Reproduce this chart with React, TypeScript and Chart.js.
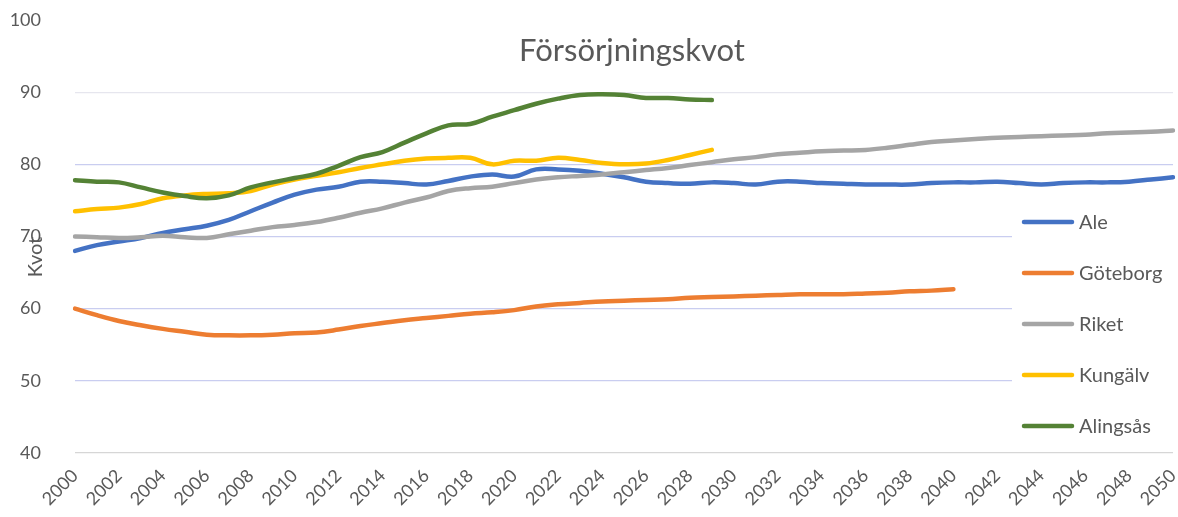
import React, { useEffect, useRef } from "react";
import { Chart, registerables } from "chart.js";

Chart.register(...registerables);

const years: string[] = [];
for (let y = 2000; y <= 2050; y++) years.push(String(y));

const ale = [
  68.0, 68.8, 69.3, 69.8, 70.5, 71.0, 71.5, 72.3, 73.5, 74.7,
  75.8, 76.5, 76.9, 77.6, 77.6, 77.4, 77.2, 77.7, 78.3, 78.6,
  78.3, 79.3, 79.3, 79.1, 78.7, 78.2, 77.6, 77.4, 77.3, 77.5,
  77.4, 77.2, 77.6, 77.6, 77.4, 77.3, 77.2, 77.2, 77.2, 77.4,
  77.5, 77.5, 77.6, 77.4, 77.2, 77.4, 77.5, 77.5, 77.6, 77.9,
  78.2,
];
const goteborg = [
  60.0, 59.1, 58.3, 57.7, 57.2, 56.8, 56.4, 56.3, 56.3, 56.4,
  56.6, 56.7, 57.1, 57.6, 58.0, 58.4, 58.7, 59.0, 59.3, 59.5,
  59.8, 60.3, 60.6, 60.8, 61.0, 61.1, 61.2, 61.3, 61.5, 61.6,
  61.7, 61.8, 61.9, 62.0, 62.0, 62.0, 62.1, 62.2, 62.4, 62.5,
  62.7,
];
const riket = [
  70.0, 69.9, 69.8, 69.9, 70.1, 69.9, 69.8, 70.3, 70.8, 71.3,
  71.6, 72.0, 72.6, 73.3, 73.9, 74.7, 75.4, 76.3, 76.7, 76.9,
  77.4, 77.9, 78.2, 78.4, 78.6, 78.9, 79.2, 79.5, 79.9, 80.3,
  80.7, 81.0, 81.4, 81.6, 81.8, 81.9, 82.0, 82.3, 82.7, 83.1,
  83.3, 83.5, 83.7, 83.8, 83.9, 84.0, 84.1, 84.3, 84.4, 84.5,
  84.7,
];
const kungalv = [
  73.5, 73.8, 74.0, 74.5, 75.3, 75.7, 75.9, 76.0, 76.3, 77.2,
  77.9, 78.4, 78.9, 79.5, 80.0, 80.5, 80.8, 80.9, 80.9, 80.0,
  80.5, 80.5, 80.9, 80.6, 80.2, 80.0, 80.1, 80.6, 81.3, 82.0,
];
const alingsas = [
  77.8, 77.6, 77.5, 76.8, 76.1, 75.6, 75.3, 75.7, 76.8, 77.5,
  78.1, 78.7, 79.8, 81.0, 81.7, 83.0, 84.3, 85.4, 85.6, 86.6,
  87.5, 88.4, 89.1, 89.6, 89.7, 89.6, 89.2, 89.2, 89.0, 88.9,
];

const seriesNames = ["Ale", "Göteborg", "Riket", "Kungälv", "Alingsås"];
const seriesColors = ["#4472C4", "#ED7D31", "#A5A5A5", "#FFC000", "#548235"];
const seriesData = [ale, goteborg, riket, kungalv, alingsas];

const titleText = "Försörjningskvot";
const yTitle = "Kvot";
const FONT = "Lato, 'Open Sans', sans-serif";
const TEXT = "#595959";

const overlay = {
  id: "overlay",
  beforeDatasetsDraw(chart: any) {
    const ctx = chart.ctx;
    ctx.save();
    ctx.fillStyle = "#ffffff";
    ctx.fillRect(1012, 198, 166, 244);
    ctx.restore();
  },
  afterDraw(chart: any) {
    const ctx = chart.ctx;
    ctx.save();
    // title
    ctx.fillStyle = TEXT;
    ctx.font = `31px ${FONT}`;
    ctx.textAlign = "center";
    ctx.textBaseline = "alphabetic";
    ctx.fillText(titleText, 632, 61);
    // y title
    ctx.save();
    ctx.translate(42, 257);
    ctx.rotate(-Math.PI / 2);
    ctx.font = `20px ${FONT}`;
    ctx.textAlign = "center";
    ctx.fillText(yTitle, 0, 0);
    ctx.restore();
    // legend
    ctx.font = `20px ${FONT}`;
    ctx.textAlign = "left";
    ctx.textBaseline = "middle";
    chart.data.datasets.forEach((ds: any, i: number) => {
      const y = 222 + i * 51;
      ctx.strokeStyle = ds.borderColor;
      ctx.lineWidth = 4.5;
      ctx.lineCap = "round";
      ctx.beginPath();
      ctx.moveTo(1024, y);
      ctx.lineTo(1072, y);
      ctx.stroke();
      ctx.fillStyle = TEXT;
      ctx.fillText(ds.label, 1079, y + 1);
    });
    ctx.restore();
  },
};

export default function App() {
  const ref = useRef<HTMLCanvasElement>(null);
  useEffect(() => {
    let chart: Chart | null = null;
    let cancelled = false;
    const make = () => {
      if (cancelled || !ref.current) return;
      chart = new Chart(ref.current, {
        type: "line",
        data: {
          labels: years,
          datasets: seriesNames.map((name, i) => ({
            label: name,
            data: seriesData[i],
            borderColor: seriesColors[i],
            backgroundColor: seriesColors[i],
            borderWidth: 4.5,
            pointRadius: 0,
            tension: 0.4,
            fill: false,
            borderCapStyle: "round",
            borderJoinStyle: "round",
            order: seriesNames.length - i,
          })),
        },
        options: {
          animation: false,
          responsive: false,
          layout: { padding: { top: 20, right: 5, left: 0, bottom: 0 } },
          plugins: {
            legend: { display: false },
            title: { display: false },
            tooltip: { enabled: false },
          },
          scales: {
            x: {
              type: "category",
              offset: false,
              grid: { display: false, drawTicks: false },
              border: { display: false },
              ticks: {
                autoSkip: false,
                minRotation: 45,
                maxRotation: 45,
                padding: 12,
                color: TEXT,
                font: { family: FONT, size: 18 },
                callback: (_v: any, i: number) => (i % 2 === 0 ? years[i] : ""),
              },
              afterFit: (s: any) => {
                s.height = 64;
                s.paddingLeft = 0;
                s.paddingRight = 0;
              },
            },
            y: {
              min: 40,
              max: 100,
              border: { display: false },
              grid: {
                drawTicks: false,
                lineWidth: 1.2,
                color: (c: any) => {
                  const v = c.tick && c.tick.value;
                  if (v === 100) return "rgba(0,0,0,0)";
                  if (v === 40) return "#d6d6d6";
                  if (v === 90) return "#e6e6ee";
                  return "#c9cdf0";
                },
              },
              ticks: {
                stepSize: 10,
                padding: 34,
                color: TEXT,
                font: { family: FONT, size: 18 },
              },
              afterFit: (s: any) => {
                s.width = 75;
                s.paddingTop = 0;
                s.paddingBottom = 0;
              },
            },
          },
        },
        plugins: [overlay],
      } as any);
    };
    const fonts: any = (document as any).fonts;
    if (fonts && fonts.load) {
      Promise.all([fonts.load(`18px Lato`), fonts.load(`31px Lato`)]).then(make, make);
    } else make();
    return () => {
      cancelled = true;
      if (chart) chart.destroy();
    };
  }, []);
  return (
    <div style={{ position: "absolute", left: 0, top: 0, width: 1178, height: 517, background: "#fff" }}>
      <canvas ref={ref} width={1178} height={517} />
    </div>
  );
}
